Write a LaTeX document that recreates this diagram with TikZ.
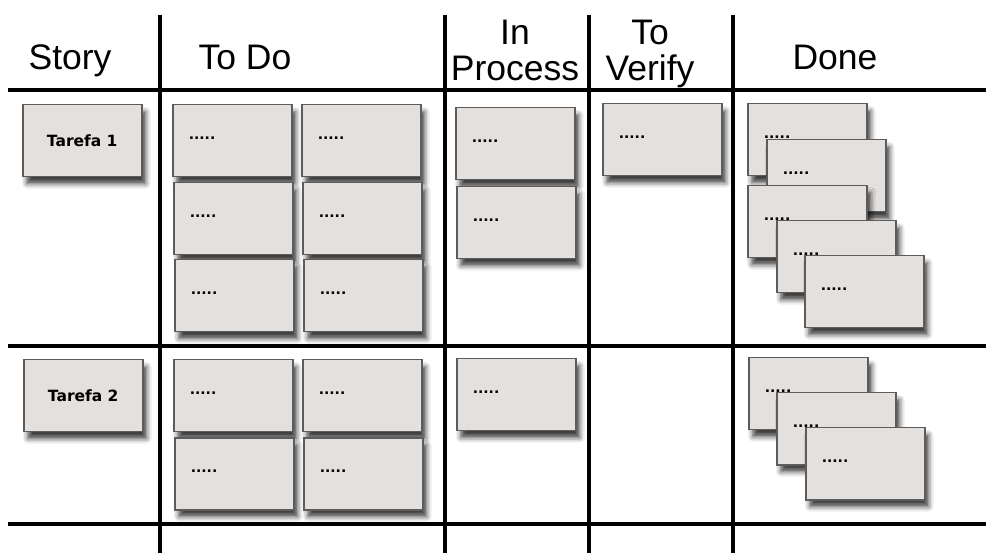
\documentclass[tikz,border=0pt]{standalone}
\usepackage{fontspec}
\usepackage{xcolor}
\usepackage{tikz}
\usetikzlibrary{shadows.blur}
\newfontfamily\headfont{Liberation Sans}
\newfontfamily\cardfont{DejaVu Sans}
\definecolor{cardfill}{RGB}{228,224,222}
\definecolor{cardline}{RGB}{92,92,92}

\begin{document}
\begin{tikzpicture}[
  x=1pt, y=-1pt,
  head/.style={font=\headfont\fontsize{35.5}{36}\selectfont, align=center, inner sep=0pt},
  card/.style={draw=cardline, line width=1.5pt, fill=cardfill, anchor=north west, minimum width=119pt, minimum height=72pt, blur shadow={shadow xshift=4pt, shadow yshift=-7pt, shadow blur radius=5pt, shadow opacity=75}},
  note/.style={card, inner xsep=16pt, text height=1pt, text depth=4pt, execute at begin node={\hbox to 87pt\bgroup}, execute at end node={\hfil\egroup}, font=\cardfont\bfseries\fontsize{14}{14}\selectfont},
  story/.style={card, font=\cardfont\bfseries\fontsize{15.5}{18}\selectfont},
  rule/.style={line width=4pt}
]
\useasboundingbox (0,0) rectangle (986,553);
% board lines
\draw[rule] (8,90) -- (986,90);
\draw[rule] (8,346) -- (986,346);
\draw[rule] (8,524) -- (986,524);
\draw[rule] (160,15) -- (160,553);
\draw[rule] (445,15) -- (445,553);
\draw[rule] (589,15) -- (589,553);
\draw[rule] (733,15) -- (733,553);
% column titles
\node[head, anchor=base] (story) at (70,70) {Story};
\node[head, anchor=base] (todo) at (245,70) {To Do};
\node[head, anchor=base] (inproc) at (515,81) {In\\Process};
\node[head, anchor=base] (verify) at (650,81) {To\\Verify};
\node[head, anchor=base] (done) at (835,70) {Done};
% first story
\node[story] (task1) at (22,104) {Tarefa 1};
\node[note] (doa) at (172,104) {.....};
\node[note] (dob) at (301,104) {.....};
\node[note] (doc) at (173,182) {.....};
\node[note] (dod) at (302,182) {.....};
\node[note] (doe) at (174,259) {.....};
\node[note] (dof) at (303,259) {.....};
\node[note] (proca) at (455,107) {.....};
\node[note] (procb) at (456,186) {.....};
\node[note] (vera) at (602,103) {.....};
\node[note] (donea) at (747,103) {.....};
\node[note] (doneb) at (766,139) {.....};
\node[note] (donec) at (747,185) {.....};
\node[note] (doned) at (776,220) {.....};
\node[note] (donee) at (804,255) {.....};
% second story
\node[story] (task2) at (23,359) {Tarefa 2};
\node[note] (dog) at (173,359) {.....};
\node[note] (doh) at (302,359) {.....};
\node[note] (doi) at (174,437) {.....};
\node[note] (doj) at (303,437) {.....};
\node[note] (procc) at (456,358) {.....};
\node[note] (donef) at (748,357) {.....};
\node[note] (doneg) at (776,392) {.....};
\node[note] (doneh) at (805,427) {.....};
\end{tikzpicture}
\end{document}
